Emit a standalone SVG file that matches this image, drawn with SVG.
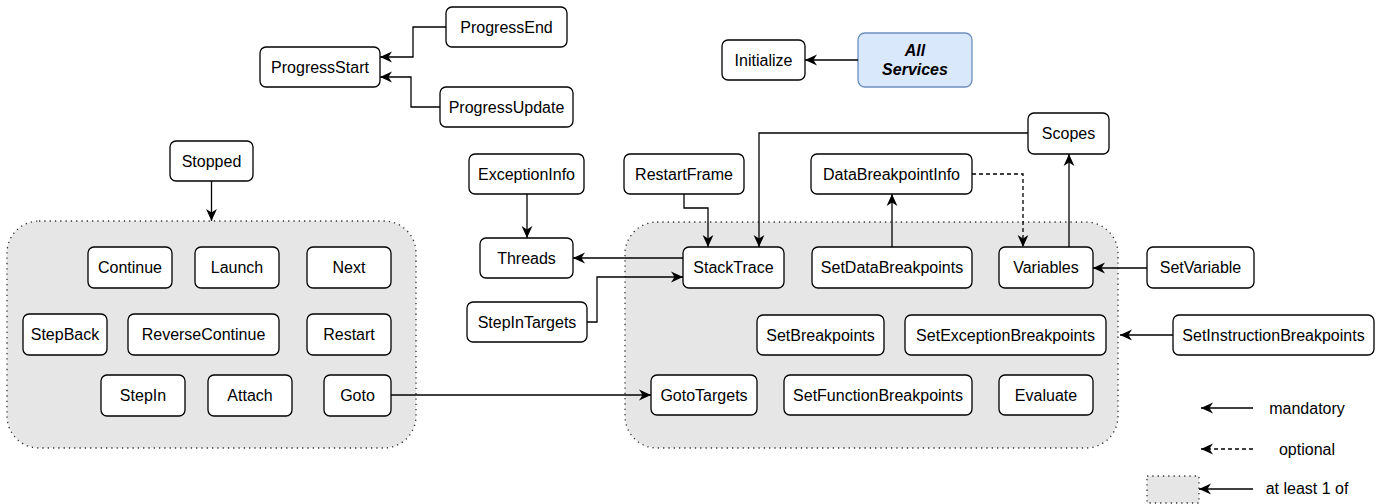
<svg xmlns="http://www.w3.org/2000/svg" width="1380" height="504" viewBox="0 0 1380 504">
<style>
.n{fill:#fff;stroke:#000;stroke-width:1.3}
.grp{fill:#e6e6e6;stroke:#333;stroke-width:1.3;stroke-dasharray:1.3 4}
.t{font-family:"Liberation Sans",Arial,sans-serif;font-size:16px;text-anchor:middle;fill:#000}
.bi{font-weight:bold;font-style:italic}
.c{fill:none;stroke:#000;stroke-width:1.3}
.d{stroke-dasharray:4 3}
</style>
<defs>
<marker id="ar" markerUnits="userSpaceOnUse" markerWidth="12" markerHeight="12" viewBox="0 0 10 10" refX="10" refY="5" orient="auto">
<path d="M0,0.5 L10,5 L0,9.5 L3,5 Z" fill="#000"/>
</marker>
</defs>
<rect width="1380" height="504" fill="#fff"/>
<g id="group-left"><rect class="grp" x="7" y="221" width="409" height="227" rx="32"/></g>
<g id="group-right"><rect class="grp" x="625" y="222" width="493" height="226" rx="32"/></g>
<g id="ProgressStart"><rect class="n" x="260" y="47" width="120" height="40" rx="6"/><text class="t" x="320" y="73">ProgressStart</text></g>
<g id="ProgressEnd"><rect class="n" x="446" y="7" width="121" height="40" rx="6"/><text class="t" x="506.5" y="33">ProgressEnd</text></g>
<g id="ProgressUpdate"><rect class="n" x="440" y="87" width="133" height="40" rx="6"/><text class="t" x="506.5" y="113">ProgressUpdate</text></g>
<g id="Initialize"><rect class="n" x="722" y="40" width="83" height="40" rx="6"/><text class="t" x="763.5" y="66">Initialize</text></g>
<g id="AllServices"><rect x="858" y="33" width="114" height="54" rx="7" fill="#dae8fc" stroke="#6c8ebf" stroke-width="1.3"/><text class="t bi" x="915" y="56">All</text><text class="t bi" x="915" y="75">Services</text></g>
<g id="Stopped"><rect class="n" x="170" y="141" width="83" height="40" rx="6"/><text class="t" x="211.5" y="167">Stopped</text></g>
<g id="Continue"><rect class="n" x="88" y="247" width="84" height="41" rx="6"/><text class="t" x="130" y="273">Continue</text></g>
<g id="Launch"><rect class="n" x="195" y="247" width="84" height="41" rx="6"/><text class="t" x="237" y="273">Launch</text></g>
<g id="Next"><rect class="n" x="307" y="247" width="84" height="41" rx="6"/><text class="t" x="349" y="273">Next</text></g>
<g id="StepBack"><rect class="n" x="23" y="314" width="84" height="41" rx="6"/><text class="t" x="65" y="340">StepBack</text></g>
<g id="ReverseContinue"><rect class="n" x="128" y="314" width="151" height="41" rx="6"/><text class="t" x="203.5" y="340">ReverseContinue</text></g>
<g id="Restart"><rect class="n" x="307" y="314" width="84" height="41" rx="6"/><text class="t" x="349" y="340">Restart</text></g>
<g id="StepIn"><rect class="n" x="101" y="375" width="84" height="41" rx="6"/><text class="t" x="143" y="401">StepIn</text></g>
<g id="Attach"><rect class="n" x="208" y="375" width="84" height="41" rx="6"/><text class="t" x="250" y="401">Attach</text></g>
<g id="Goto"><rect class="n" x="324" y="375" width="67" height="41" rx="6"/><text class="t" x="357.5" y="401">Goto</text></g>
<g id="ExceptionInfo"><rect class="n" x="469" y="154" width="115" height="40" rx="6"/><text class="t" x="526.5" y="180">ExceptionInfo</text></g>
<g id="Threads"><rect class="n" x="480" y="238" width="93" height="40" rx="6"/><text class="t" x="526.5" y="264">Threads</text></g>
<g id="StepInTargets"><rect class="n" x="467" y="302" width="120" height="40" rx="6"/><text class="t" x="527" y="328">StepInTargets</text></g>
<g id="RestartFrame"><rect class="n" x="624" y="154" width="120" height="40" rx="6"/><text class="t" x="684" y="180">RestartFrame</text></g>
<g id="DataBreakpointInfo"><rect class="n" x="811" y="154" width="161" height="40" rx="6"/><text class="t" x="891.5" y="180">DataBreakpointInfo</text></g>
<g id="Scopes"><rect class="n" x="1028" y="113" width="81" height="41" rx="6"/><text class="t" x="1068.5" y="139">Scopes</text></g>
<g id="StackTrace"><rect class="n" x="683" y="247" width="101" height="41" rx="6"/><text class="t" x="733.5" y="273">StackTrace</text></g>
<g id="SetDataBreakpoints"><rect class="n" x="812" y="247" width="160" height="41" rx="6"/><text class="t" x="892" y="273">SetDataBreakpoints</text></g>
<g id="Variables"><rect class="n" x="999" y="247" width="94" height="41" rx="6"/><text class="t" x="1046" y="273">Variables</text></g>
<g id="SetVariable"><rect class="n" x="1147" y="247" width="107" height="41" rx="6"/><text class="t" x="1200.5" y="273">SetVariable</text></g>
<g id="SetBreakpoints"><rect class="n" x="757" y="315" width="127" height="40" rx="6"/><text class="t" x="820.5" y="341">SetBreakpoints</text></g>
<g id="SetExceptionBreakpoints"><rect class="n" x="905" y="315" width="201" height="40" rx="6"/><text class="t" x="1005.5" y="341">SetExceptionBreakpoints</text></g>
<g id="SetInstructionBreakpoints"><rect class="n" x="1173" y="315" width="201" height="40" rx="6"/><text class="t" x="1273.5" y="341">SetInstructionBreakpoints</text></g>
<g id="GotoTargets"><rect class="n" x="651" y="375" width="106" height="40" rx="6"/><text class="t" x="704" y="401">GotoTargets</text></g>
<g id="SetFunctionBreakpoints"><rect class="n" x="784" y="375" width="188" height="40" rx="6"/><text class="t" x="878" y="401">SetFunctionBreakpoints</text></g>
<g id="Evaluate"><rect class="n" x="999" y="375" width="94" height="40" rx="6"/><text class="t" x="1046" y="401">Evaluate</text></g>
<g id="connectors" marker-end="url(#ar)">
<path class="c" d="M446,27 H413 V57 H380"/>
<path class="c" d="M440,107 H411 V77 H380"/>
<path class="c" d="M858,60 H805"/>
<path class="c" d="M211.5,181 V221"/>
<path class="c" d="M391,395 H651"/>
<path class="c" d="M527,194 V238"/>
<path class="c" d="M683,258 H573"/>
<path class="c" d="M587,322 H597 V277 H683"/>
<path class="c" d="M684,194 V208 H708 V247"/>
<path class="c" d="M1028,133 H759 V247"/>
<path class="c" d="M892,247 V194"/>
<path class="c d" d="M972,174 H1023 V247"/>
<path class="c" d="M1069,247 V154"/>
<path class="c" d="M1147,268 H1093"/>
<path class="c" d="M1173,335 H1120"/>
</g>
<g id="legend">
<path class="c" d="M1253,408 H1201" marker-end="url(#ar)"/>
<path class="c d" d="M1253,449 H1201" marker-end="url(#ar)"/>
<rect class="grp" x="1147" y="476" width="52" height="27"/>
<path class="c" d="M1253,489 H1199" marker-end="url(#ar)"/>
<text class="t" x="1307" y="414">mandatory</text>
<text class="t" x="1307" y="455">optional</text>
<text class="t" x="1307" y="494">at least 1 of</text>
</g>
</svg>
